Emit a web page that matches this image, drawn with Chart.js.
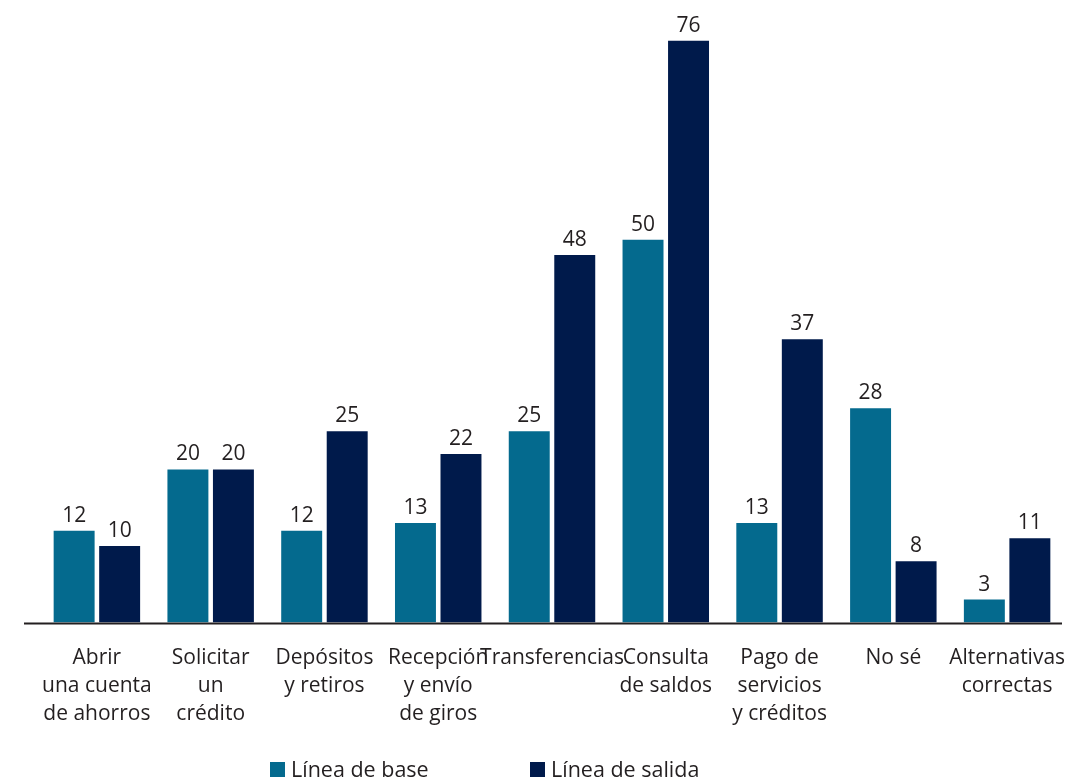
<!DOCTYPE html>
<html>
<head>
<meta charset="utf-8">
<script src="https://cdn.jsdelivr.net/npm/chart.js@4.4.0/dist/chart.umd.min.js"></script>
<style>
html,body{margin:0;padding:0;background:#fff;}
#wrap{width:1078px;height:781px;position:relative;}
</style>
</head>
<body>
<div id="wrap"><canvas id="c" width="1078" height="781"></canvas></div>
<script>
const categories = [
  ["Abrir","una cuenta","de ahorros"],
  ["Solicitar","un","crédito"],
  ["Depósitos","y retiros"],
  ["Recepción","y envío","de giros"],
  ["Transferencias"],
  ["Consulta","de saldos"],
  ["Pago de","servicios","y créditos"],
  ["No sé"],
  ["Alternativas","correctas"]
];
const seriesNames = ["Línea de base", "Línea de salida"];
const lineaBase   = [12, 20, 12, 13, 25, 50, 13, 28, 3];
const lineaSalida = [10, 20, 25, 22, 48, 76, 37, 8, 11];
const colors = ["#046a8e", "#001a4b"];
const textColor = "#231f20";
const FONT = "'Open Sans', sans-serif";

const valueLabels = {
  id: 'valueLabels',
  afterDatasetsDraw(chart) {
    const ctx = chart.ctx;
    ctx.save();
    ctx.font = "21px " + FONT;
    ctx.fillStyle = textColor;
    ctx.textAlign = 'center';
    ctx.textBaseline = 'alphabetic';
    chart.data.datasets.forEach((ds, i) => {
      chart.getDatasetMeta(i).data.forEach((bar, j) => {
        ctx.fillText(String(ds.data[j]), bar.x, bar.y - 9);
      });
    });
    ctx.restore();
  }
};

const axisLine = {
  id: 'axisLine',
  afterDatasetsDraw(chart) {
    const ctx = chart.ctx;
    const y = chart.scales.x.top + 1;
    ctx.save();
    ctx.strokeStyle = textColor;
    ctx.lineWidth = 2;
    ctx.beginPath();
    ctx.moveTo(24, y);
    ctx.lineTo(1062, y);
    ctx.stroke();
    ctx.restore();
  }
};

const customLegend = {
  id: 'customLegend',
  afterDraw(chart) {
    const ctx = chart.ctx;
    const xs = [270, 530];
    ctx.save();
    ctx.font = "21.5px " + FONT;
    ctx.textBaseline = 'alphabetic';
    ctx.textAlign = 'left';
    chart.data.datasets.forEach((ds, i) => {
      ctx.fillStyle = ds.backgroundColor;
      ctx.fillRect(xs[i], 762, 15, 15);
      ctx.fillStyle = textColor;
      ctx.fillText(ds.label, xs[i] + 21, 777);
    });
    ctx.restore();
  }
};

new Chart(document.getElementById('c'), {
  type: 'bar',
  data: {
    labels: categories,
    datasets: [
      { label: seriesNames[0], data: lineaBase, backgroundColor: colors[0] },
      { label: seriesNames[1], data: lineaSalida, backgroundColor: colors[1] }
    ]
  },
  options: {
    responsive: false,
    animation: false,
    layout: { padding: { left: 40, right: 14, top: 10, bottom: 40 } },
    plugins: { legend: { display: false }, tooltip: { enabled: false } },
    datasets: { bar: { categoryPercentage: 0.8, barPercentage: 0.9 } },
    scales: {
      x: {
        grid: { display: false },
        border: { display: false },
        afterFit(scale) { scale.paddingLeft = 0; scale.paddingRight = 0; },
        ticks: {
          color: textColor,
          padding: 13,
          maxRotation: 0,
          autoSkip: false,
          font: { family: FONT, size: 21, lineHeight: 1.34 }
        }
      },
      y: {
        display: false,
        min: 0,
        max: 80
      }
    }
  },
  plugins: [valueLabels, axisLine, customLegend]
});
</script>
</body>
</html>
